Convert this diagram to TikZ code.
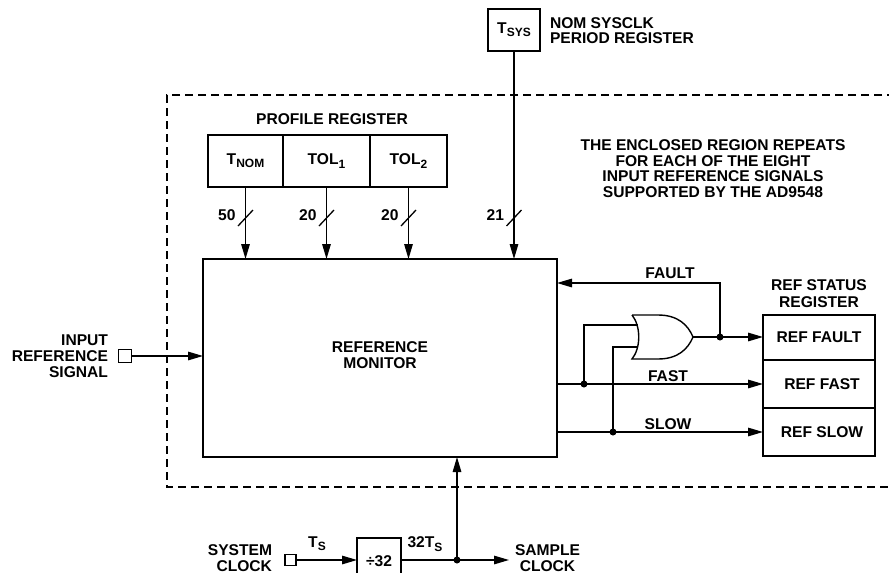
\documentclass[tikz,border=0pt]{standalone}
\usepackage{fontspec}
\setmainfont{Liberation Sans}
\usetikzlibrary{arrows.meta}
\newcommand{\lsub}[1]{\raisebox{-0.4ex}{\fontsize{12}{12}\selectfont #1}}
\begin{document}
\begin{tikzpicture}[x=1pt,y=-1pt,
  every node/.style={font=\fontsize{15.6}{16}\selectfont\bfseries, inner sep=0pt, outer sep=0pt},
  ln/.style={line width=1.4pt},
  arr/.style={ln,-{Triangle[length=15pt,width=8.5pt]}},
  box/.style={draw, line width=1.4pt},
  dot/.style={circle, fill, minimum size=7pt, inner sep=0pt},
  sq/.style={draw, line width=1.3pt, minimum size=12pt},
  slash/.style={line width=1.3pt}
]
\useasboundingbox (0,0) rectangle (889,573);

% dashed enclosure (right side beyond the picture)
\draw[line width=1.4pt, dash pattern=on 8pt off 5pt] (895,95) -- (167,95) -- (167,487) -- (895,487);

% main blocks
\node[box, minimum width=354pt, minimum height=198pt] (rm) at (380,358) {};
\node[align=center] (rmt) at (380,355) {REFERENCE\\MONITOR};

% profile register
\node (prt) at (332,119.5) {PROFILE REGISTER};
\node[box, minimum width=75pt, minimum height=52pt] (tnom) at (245.5,161) {T\lsub{NOM}};
\node[box, minimum width=87pt, minimum height=52pt] (tol1) at (326.5,161) {TOL\lsub{1}};
\node[box, minimum width=77pt, minimum height=52pt] (tol2) at (408.5,161) {TOL\lsub{2}};

% Tsys register
\node[box, minimum width=52pt, minimum height=42pt] (tsys) at (514,30) {T\lsub{SYS}};
\node[anchor=west, align=left, font=\fontsize{15.6}{14.6}\selectfont\bfseries] (tsyst) at (550,30.5) {NOM SYSCLK\\PERIOD REGISTER};

% note
\node[align=center, font=\fontsize{15.6}{15.7}\selectfont\bfseries] (note) at (713,168.5) {THE ENCLOSED REGION REPEATS\\FOR EACH OF THE EIGHT\\INPUT REFERENCE SIGNALS\\SUPPORTED BY THE AD9548};

% bus arrows
\draw[arr] (tnom.south) -- (tnom.south |- rm.north);
\draw[arr] (tol1.south) -- (tol1.south |- rm.north);
\draw[arr] (tol2.south) -- (tol2.south |- rm.north);
\draw[arr] (tsys.south) -- (tsys.south |- rm.north);
\foreach \n/\v in {tnom/50, tol1/20, tol2/20, tsys/21}{
  \draw[slash] ([shift={(-7.5,226)}]\n.south |- 0,0) -- ([shift={(7.5,210)}]\n.south |- 0,0);
  \node[anchor=east] at ([shift={(-10,215)}]\n.south |- 0,0) {\v};
}

% input reference signal
\node[sq, minimum size=13pt] (irs) at (125,356) {};
\node[anchor=east, align=right] (irst) at (108,356) {INPUT\\REFERENCE\\SIGNAL};
\draw[arr] (irs.east) -- (rm.west |- irs.east);

% ref status register
\node[align=center, font=\fontsize{15.6}{17}\selectfont\bfseries] (rsrt) at (819,293.5) {REF STATUS\\REGISTER};
\node[box, minimum width=112pt, minimum height=45pt] (rfault) at (819,337.5) {REF FAULT};
\node[box, minimum width=112pt, minimum height=48pt] (rfast) at (819,384) {\hspace{6pt}REF FAST};
\node[box, minimum width=112pt, minimum height=48pt] (rslow) at (819,432) {\hspace{6pt}REF SLOW};

% OR gate
\draw[ln, fill=white] (632,315) -- (658,315) .. controls (678,315) and (688,325) .. (693,337)
  .. controls (688,349) and (678,359) .. (658,359) -- (632,359)
  .. controls (641,348) and (641,326) .. (632,315);
\coordinate (orout) at (693,337);
\coordinate (orin1) at (637.5,325);
\coordinate (orin2) at (637.5,347);

\node[dot] (dfault) at (720,337) {};
\draw[arr] (orout) -- (rfault.west |- orout);
\coordinate (fturn) at (720,283);
\draw[arr] (dfault.center) -- (fturn) -- (rm.east |- fturn);
\node (faultt) at (670,273) {FAULT};

% FAST / SLOW
\node[dot] (dfast) at (584,384) {};
\node[dot] (dslow) at (613,432) {};
\draw[arr] (rm.east |- dfast) -- (rfast.west |- dfast);
\draw[arr] (rm.east |- dslow) -- (rslow.west |- dslow);
\draw[ln] (dfast.center) |- (orin1);
\draw[ln] (dslow.center) |- (orin2);
\node (fastt) at (668,376) {FAST};
\node (slowt) at (668,424) {SLOW};

% bottom clock chain
\node[sq, minimum size=11pt] (sclk) at (290.5,560) {};
\node[anchor=east, align=right] (sclkt) at (272,558) {SYSTEM\\CLOCK};
\draw[ln] (357,580) -- (357,538) -- (401,538) -- (401,580);
\node (div) at (379,561) {÷32};
\coordinate (divw) at (357,560);
\coordinate (dive) at (401,560);
\draw[arr] (sclk.east) -- (divw);
\node (tst) at (317,544) {T\lsub{S}};
\node[dot] (dsamp) at (457,560) {};
\draw[ln] (dive) -- (dsamp.center);
\coordinate (sampend) at (509,560);
\draw[arr] (dsamp.center) -- (sampend);
\draw[arr] (dsamp.center) -- (dsamp |- rm.south);
\node (ts32) at (425,544) {32T\lsub{S}};
\node[anchor=west, align=center] (sampt) at (515,558) {SAMPLE\\CLOCK};
\end{tikzpicture}
\end{document}
